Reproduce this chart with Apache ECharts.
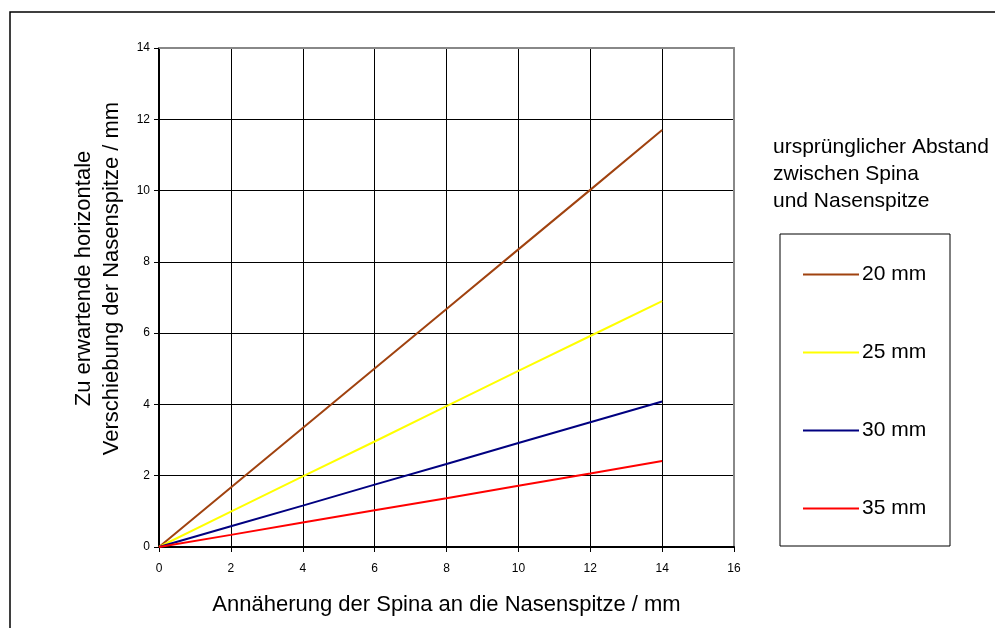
<!DOCTYPE html>
<html>
<head>
<meta charset="utf-8">
<script src="https://cdn.jsdelivr.net/npm/echarts@6/dist/echarts.min.js"></script>
<style>
  html, body { margin: 0; padding: 0; background: #fff; }
  #chart { width: 995px; height: 628px; }
</style>
</head>
<body>
<div id="chart"></div>
<script>
// x values (Annäherung in mm)
const xValues = [0, 2, 4, 6, 8, 10, 12, 14]
// expected horizontal displacement per original distance
const s20 = [0, 1.67, 3.34, 5.01, 6.68, 8.35, 10.02, 11.7]
const s25 = [0, 0.99, 1.98, 2.96, 3.95, 4.94, 5.92, 6.9]
const s30 = [0, 0.58, 1.16, 1.75, 2.33, 2.92, 3.5, 4.08]
const s35 = [0, 0.34, 0.69, 1.03, 1.37, 1.72, 2.06, 2.41]
const seriesNames = ['20 mm', '25 mm', '30 mm', '35 mm']
const colors = ['#a0420f', '#ffff00', '#000080', '#ff0000']

const font = 'Liberation Sans, Arial, sans-serif'
const chart = echarts.init(document.getElementById('chart'))

const allData = [s20, s25, s30, s35]
const series = []
for (let i = 0; i < allData.length; i++) {
  series.push({
    name: seriesNames[i],
    type: 'line',
    data: xValues.map((x, j) => [x, allData[i][j]]),
    symbol: 'none',
    lineStyle: { color: colors[i], width: 2 },
    itemStyle: { color: colors[i] },
    z: 5
  })
}

// one legend per item so the vertical spacing matches the original box
const legendTops = [259, 337, 415, 493]
const legends = seriesNames.map((n, i) => ({
  data: [n],
  left: 798,
  top: legendTops[i],
  orient: 'vertical',
  icon: 'rect',
  itemWidth: 56,
  itemHeight: 2,
  itemGap: 0,
  selectedMode: false,
  textStyle: { fontFamily: font, fontSize: 21, color: '#000', padding: [0, 0, 0, -2] }
}))

chart.setOption({
  animation: false,
  backgroundColor: '#fff',
  grid: { left: 159, right: 261, top: 48, bottom: 81 },
  legend: legends,
  graphic: [
    {
      type: 'rect',
      shape: { x: 10, y: 12, width: 1000, height: 700 },
      style: { fill: 'none', stroke: '#000', lineWidth: 1.5 },
      silent: true
    },
    {
      type: 'rect',
      shape: { x: 780, y: 234, width: 170, height: 312 },
      style: { fill: 'none', stroke: '#000', lineWidth: 1 },
      silent: true
    },
    {
      type: 'text',
      left: 773,
      top: 134,
      style: {
        text: 'ursprünglicher Abstand\nzwischen Spina\nund Nasenspitze',
        font: '21px ' + font,
        fill: '#000',
        lineHeight: 27
      }
    }
  ],
  xAxis: [{
    type: 'value',
    min: 0,
    max: 16,
    interval: 2,
    name: 'Annäherung der Spina an die Nasenspitze / mm',
    nameLocation: 'middle',
    nameGap: 47,
    nameTextStyle: { fontFamily: font, fontSize: 22, color: '#000' },
    axisLine: { lineStyle: { color: '#000', width: 2 } },
    axisTick: { show: true, length: 5, lineStyle: { color: '#000' } },
    axisLabel: { fontFamily: font, fontSize: 12, color: '#000', margin: 16 },
    splitLine: { show: true, lineStyle: { color: '#000', width: 1 } }
  }, {
    type: 'value',
    position: 'top',
    min: 0,
    max: 16,
    axisLine: { show: true, onZero: false, lineStyle: { color: '#888', width: 2 } },
    axisTick: { show: false },
    axisLabel: { show: false },
    splitLine: { show: false }
  }],
  yAxis: [{
    type: 'value',
    min: 0,
    max: 14,
    interval: 2,
    name: 'Zu erwartende horizontale\nVerschiebung der Nasenspitze / mm',
    nameLocation: 'middle',
    nameRotate: 90,
    nameGap: 31,
    nameTextStyle: { fontFamily: font, fontSize: 22, color: '#000', lineHeight: 28, padding: [0, 0, 0, 38] },
    axisLine: { show: true, lineStyle: { color: '#000', width: 2 } },
    axisTick: { show: true, length: 5, lineStyle: { color: '#000' } },
    axisLabel: { fontFamily: font, fontSize: 12, color: '#000', margin: 9 },
    splitLine: { show: true, lineStyle: { color: '#000', width: 1 } }
  }, {
    type: 'value',
    position: 'right',
    min: 0,
    max: 14,
    axisLine: { show: true, onZero: false, lineStyle: { color: '#888', width: 2 } },
    axisTick: { show: false },
    axisLabel: { show: false },
    splitLine: { show: false }
  }],
  series: series
})
</script>
</body>
</html>
